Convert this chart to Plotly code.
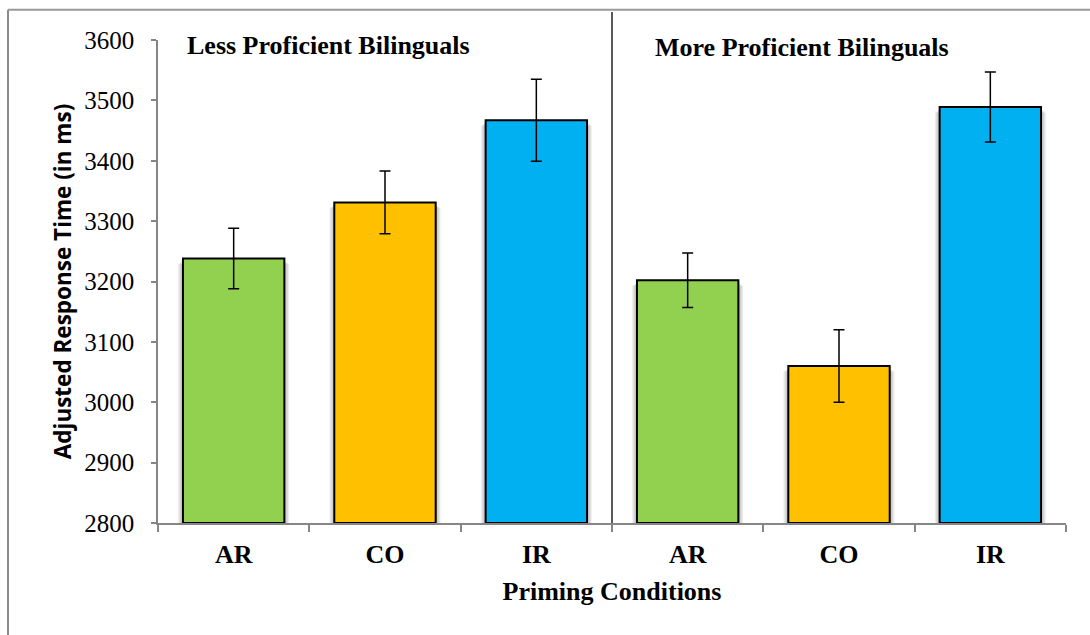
import plotly.graph_objects as go

# Mean adjusted response times (ms) and standard errors per priming condition
conditions = ["AR", "CO", "IR", "AR", "CO", "IR"]
groups = ["Less Proficient Bilinguals", "More Proficient Bilinguals"]
mean_rt = [3238, 3331, 3467, 3202, 3060, 3489]
std_err = [50, 52, 68, 45, 60, 58]
bar_colors = ["#92D050", "#FFC000", "#00B0F0", "#92D050", "#FFC000", "#00B0F0"]
y_ticks = [2800, 2900, 3000, 3100, 3200, 3300, 3400, 3500, 3600]

baseline = 2800
positions = list(range(len(conditions)))
boundaries = [p - 0.5 for p in positions] + [positions[-1] + 0.5]
bar_width = 0.67

fig = go.Figure()

# soft drop shadow: a few translucent, slightly wider bars behind each bar
for k in range(1, 5):
    fig.add_trace(go.Bar(
        x=positions,
        y=[v - baseline - 3 - 1.5 * k for v in mean_rt],
        base=baseline,
        width=bar_width + 0.016 * k,
        marker=dict(color="rgba(0,0,0,0.07)", line=dict(width=0)),
        hoverinfo="skip",
        showlegend=False,
    ))

fig.add_trace(go.Bar(
    x=positions,
    y=[v - baseline for v in mean_rt],
    base=baseline,
    width=bar_width,
    marker=dict(color=bar_colors, line=dict(color="#000000", width=2)),
    error_y=dict(type="data", array=std_err, visible=True,
                 color="#000000", thickness=1.5, width=5.5),
    customdata=mean_rt,
    hovertemplate="%{customdata} ms<extra></extra>",
    showlegend=False,
))

serif = "Liberation Serif, Times New Roman, serif"

fig.update_layout(
    width=1090,
    height=635,
    margin=dict(l=158, r=24, t=40, b=112),
    paper_bgcolor="white",
    plot_bgcolor="white",
    barmode="overlay",
    font=dict(family=serif, color="#000000"),
    xaxis=dict(
        range=[boundaries[0], boundaries[-1]],
        tickmode="array",
        tickvals=positions,
        ticktext=conditions,
        ticks="",
        tickfont=dict(family=serif, size=26, color="#000000", weight="bold"),
        ticklabelstandoff=7,
        minor=dict(tickmode="array", tickvals=boundaries, ticks="outside",
                   ticklen=7, tickwidth=1.5, tickcolor="#868686"),
        showline=True,
        linecolor="#868686",
        linewidth=1.5,
        showgrid=False,
        zeroline=False,
        title=dict(text="<b>Priming Conditions</b>", standoff=14,
                   font=dict(family=serif, size=26, color="#000000")),
    ),
    yaxis=dict(
        range=[y_ticks[0], y_ticks[-1]],
        tickmode="array",
        tickvals=y_ticks,
        ticks="outside",
        ticklen=5,
        tickwidth=1.5,
        tickcolor="#868686",
        tickfont=dict(family=serif, size=25, color="#000000"),
        ticklabelstandoff=12,
        showline=True,
        linecolor="#868686",
        linewidth=1.5,
        showgrid=False,
        zeroline=False,
        title=dict(text="<b>Adjusted Response Time (in ms)</b>", standoff=6,
                   font=dict(family="Open Sans, Lato, sans-serif", size=22.5,
                             color="#000000")),
    ),
)

# outer chart frame
fig.add_shape(type="line", xref="paper", yref="paper",
              x0=-0.1652, x1=-0.1652, y0=1.0627, y1=-0.25,
              line=dict(color="#8c8c8c", width=2))
fig.add_shape(type="line", xref="paper", yref="paper",
              x0=-0.1652, x1=1.05, y0=1.0627, y1=1.0627,
              line=dict(color="#9a9a9a", width=2))

# divider between the two proficiency groups
fig.add_shape(type="line", xref="x", yref="paper",
              x0=2.5, x1=2.5, y0=0, y1=1.058,
              line=dict(color="#000000", width=1.3))

# group headings
fig.add_annotation(text="<b>%s</b>" % groups[0], xref="paper", yref="paper",
                   x=(185 - 158) / 908, y=(522.7 - 45) / 482.7,
                   xanchor="left", yanchor="middle", showarrow=False,
                   font=dict(family=serif, size=26, color="#000000"))
fig.add_annotation(text="<b>%s</b>" % groups[1], xref="paper", yref="paper",
                   x=(653 - 158) / 908, y=(522.7 - 47) / 482.7,
                   xanchor="left", yanchor="middle", showarrow=False,
                   font=dict(family=serif, size=26, color="#000000"))

fig.write_html("out.html")
